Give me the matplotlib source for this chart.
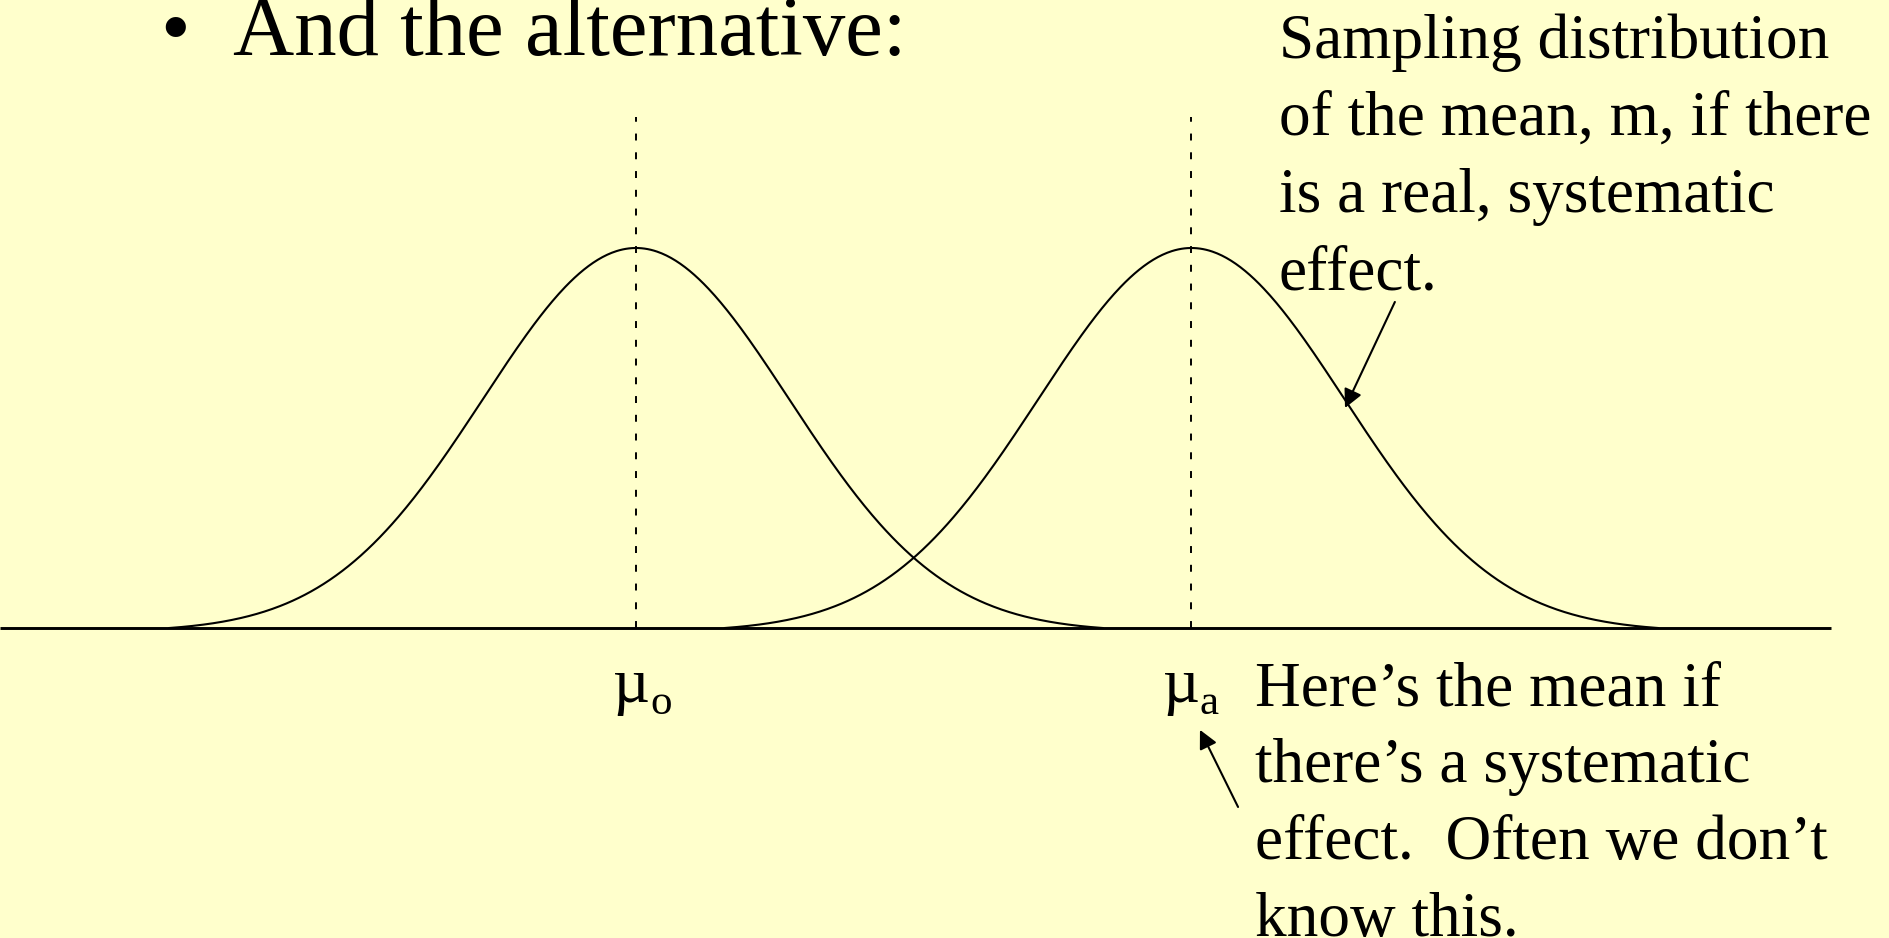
import numpy as np
import matplotlib
matplotlib.use("Agg")
import matplotlib.pyplot as plt

plt.rcParams['font.family'] = ['Liberation Serif', 'DejaVu Serif']
plt.rcParams['lines.scale_dashes'] = False

# two sampling distributions of the mean (sigma = 1 units)
mu_o = 0.0
mu_a = 3.63
sigma = 1.0
peak = 1.0
tail = 3.05                    # curves are drawn out to +-tail sigmas, where they meet the axis
mean_line_top = 1.345          # top of the dotted lines, in units of the peak height
baseline_x = [-4.16, 7.81]

title = "And the alternative:"
upper_note = ["Sampling distribution",
              "of the mean, m, if there",
              "is a real, systematic",
              "effect."]
lower_note = ["Here\u2019s the mean if",
              "there\u2019s a systematic",
              "effect.  Often we don\u2019t",
              "know this."]

W, H = 1890, 938
BG = '#FFFFCC'
FS = 45.5


def fx(px):
    return px / W


def fy(py):
    return 1 - py / H


fig = plt.figure(figsize=(W / 100, H / 100), dpi=100, facecolor=BG)
ax = fig.add_axes([0, 0, 1, 1])
ax.set_facecolor(BG)
ax.axis('off')

# map pixels so that mu_o sits at x=636 and sigma spans 153 px
ax.set_xlim(-636 / 153, (W - 636) / 153)
ax.set_ylim((628 - H) / 380, 628 / 380)

z = np.linspace(-tail, tail, 600)
floor = np.exp(-0.5 * tail ** 2)
bell = (np.exp(-0.5 * z ** 2) - floor) / (1 - floor)   # bell dropped so the ends sit on the axis
for mu in (mu_o, mu_a):
    ax.plot(mu + z * sigma, peak * bell, color='black', lw=1.5)
    ax.plot([mu, mu], [0, mean_line_top * peak], color='black', lw=1.4,
            linestyle=(0, (5, 8.5)))

ax.plot(baseline_x, [0, 0], color='black', lw=2.1, solid_capstyle='butt')

# headline
fig.text(fx(160), fy(55), "\u2022", fontsize=61, va='baseline', ha='left')
fig.text(fx(233), fy(55), title, fontsize=61, va='baseline', ha='left')

# mean labels
for mx, sub in ((613, 'o'), (1163, 'a')):
    fig.text(fx(mx), fy(702), "\u00b5", fontsize=46, va='baseline', ha='left')
    fig.text(fx(mx + 37), fy(714), sub, fontsize=31, va='baseline', ha='left')

for i, line in enumerate(upper_note):
    fig.text(fx(1279), fy(58 + 77 * i), line, fontsize=FS, va='baseline', ha='left')
for i, line in enumerate(lower_note):
    fig.text(fx(1255), fy(705 + 77 * i), line, fontsize=FS, va='baseline', ha='left')

arrow = dict(arrowstyle='-|>', color='black', lw=1.5, mutation_scale=28,
             shrinkA=0, shrinkB=0)
ax.annotate('', xy=(4.634, 0.579), xytext=(4.96, 0.858), arrowprops=arrow)
ax.annotate('', xy=(3.686, -0.268), xytext=(3.935, -0.471), arrowprops=arrow)

fig.savefig('out.png', dpi=100, facecolor=BG)
